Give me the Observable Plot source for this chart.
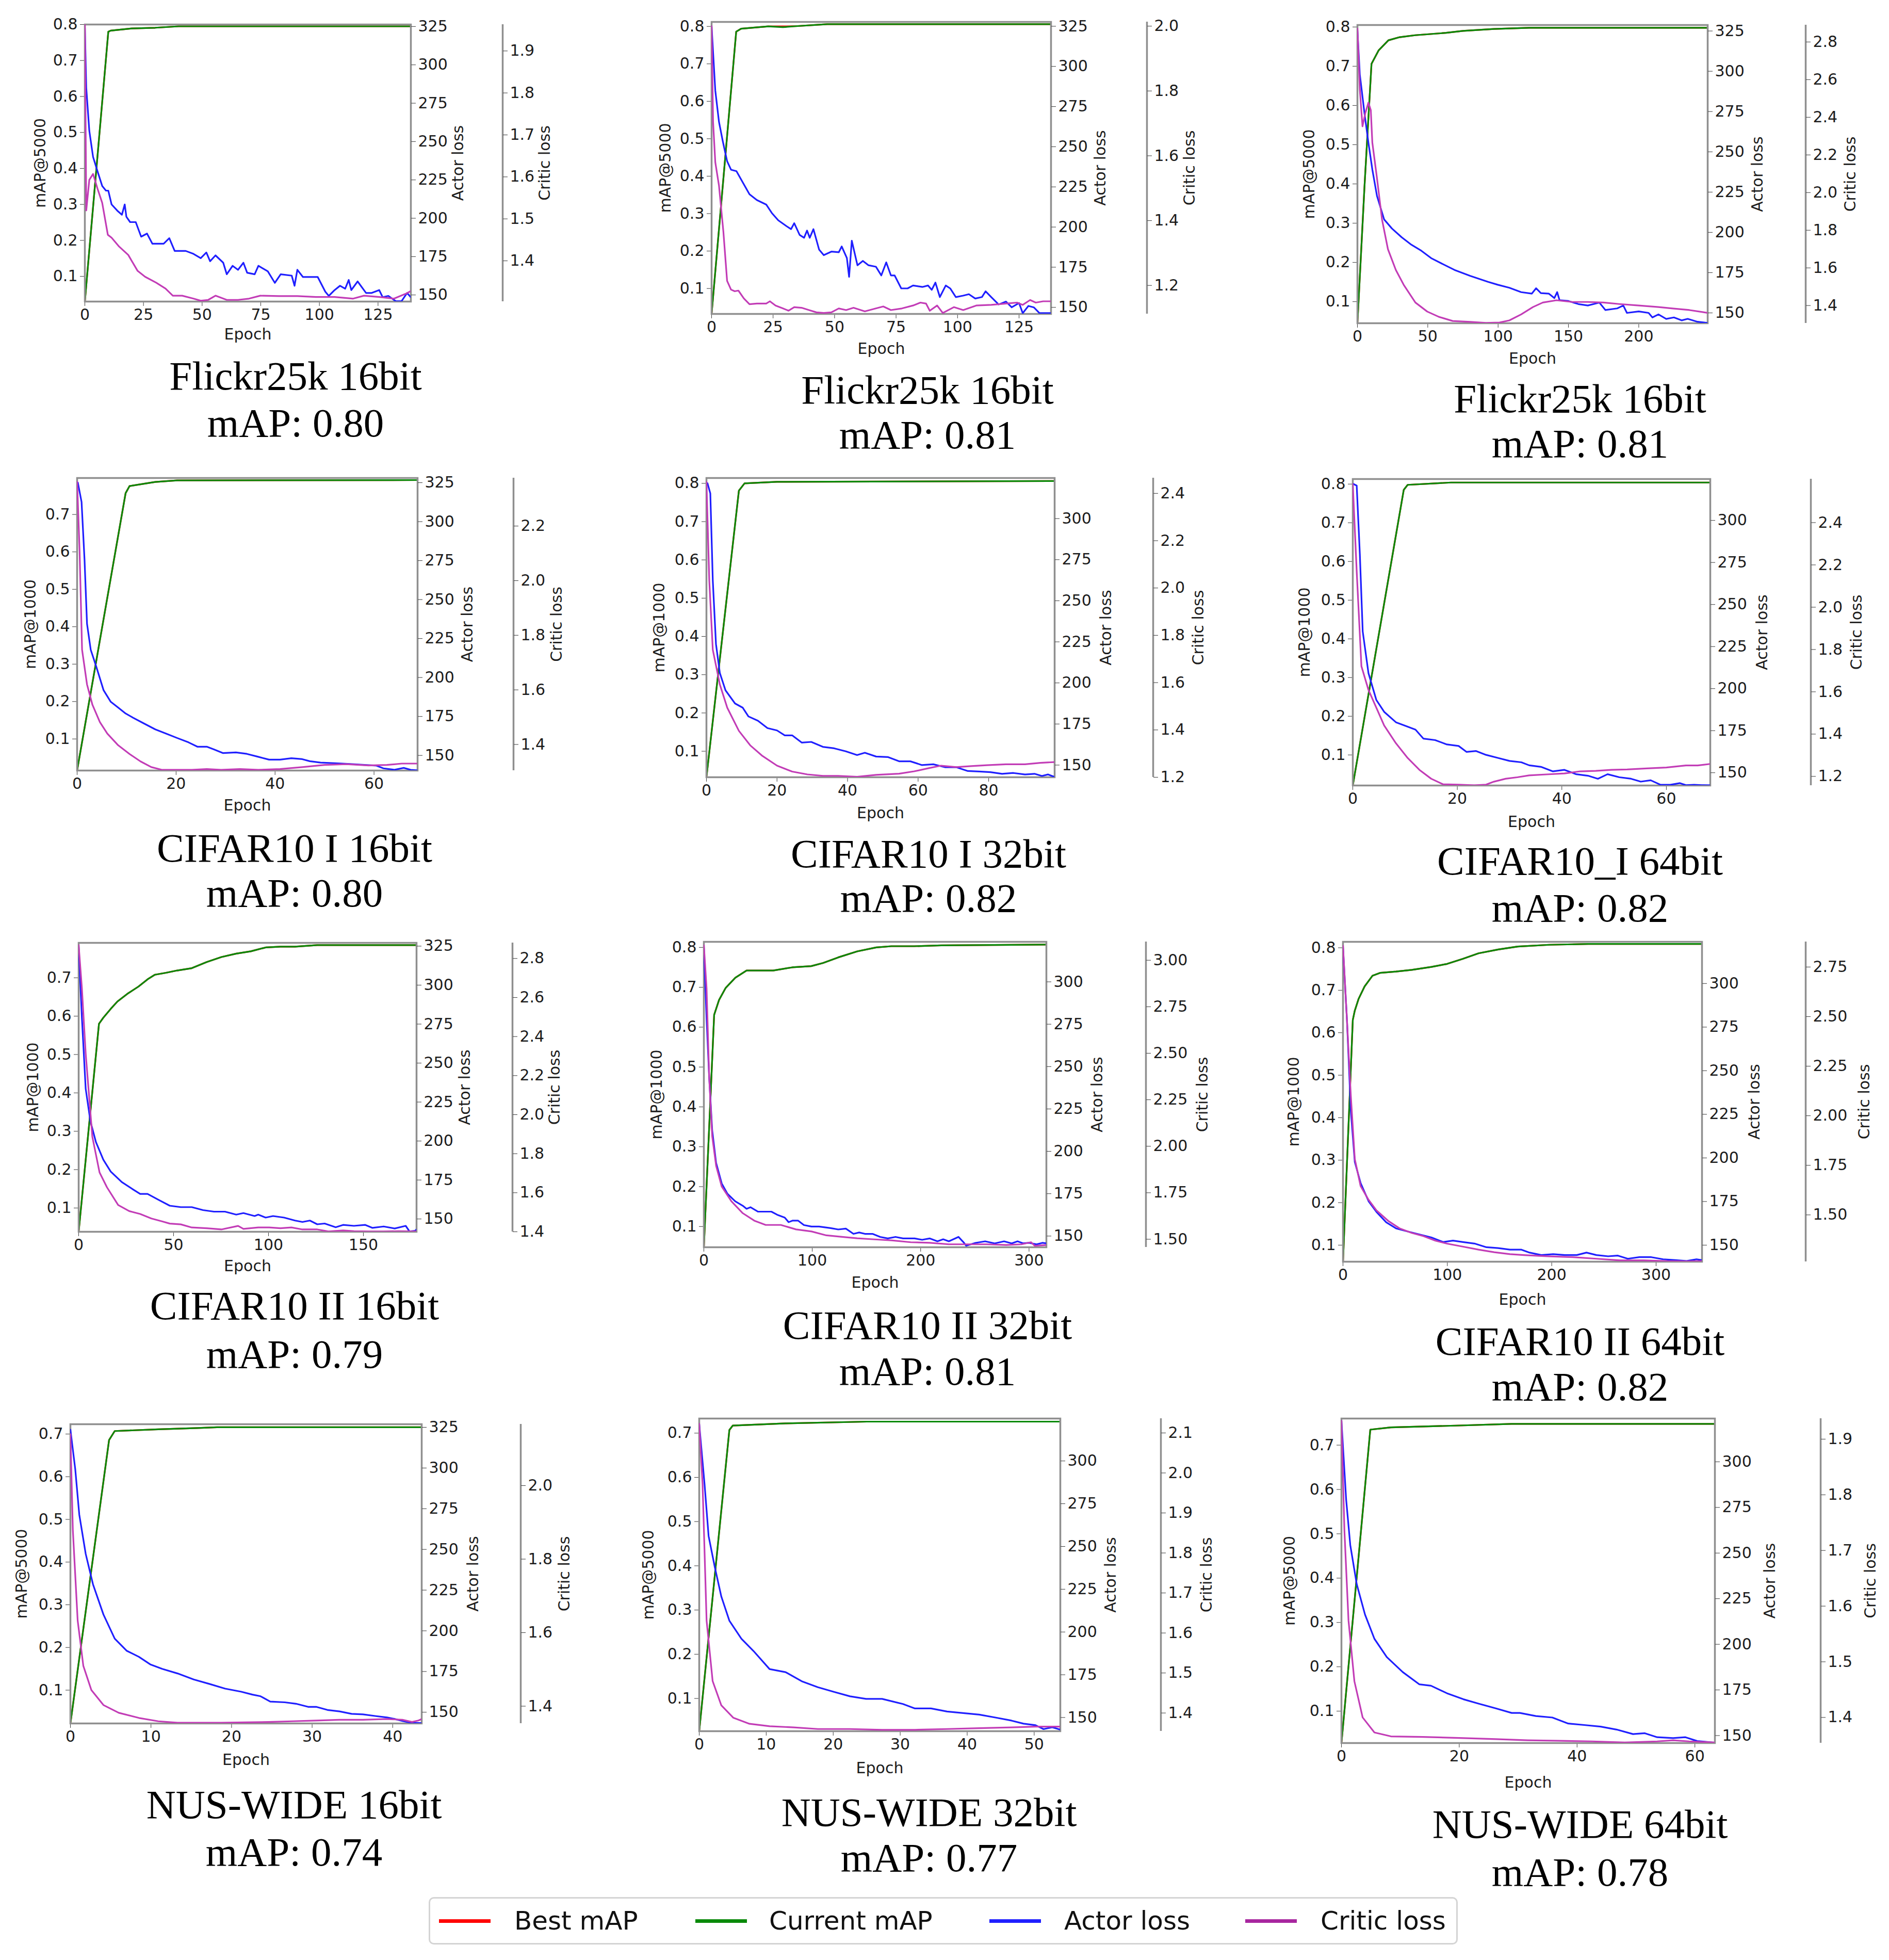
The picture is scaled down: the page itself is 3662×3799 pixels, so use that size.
<!DOCTYPE html>
<html>
<head>
<meta charset="utf-8">
<script src="https://cdn.jsdelivr.net/npm/d3@7"></script>
<script src="https://cdn.jsdelivr.net/npm/@observablehq/plot@0.6"></script>
<style>
html, body { margin: 0; padding: 0; background: #fff; }
#page { position: relative; width: 3662px; height: 3799px; overflow: hidden; background: #fff; }
.title { position: absolute; font-family: "Liberation Serif", "Times New Roman", serif; font-size: 79px; line-height: 1; white-space: nowrap; transform: translate(-50%, -50%); color: #000; }
.legend { position: absolute; box-sizing: border-box; border: 3px solid #d4d4d4; border-radius: 10px; background: #fff; }
.legend .sw { position: absolute; height: 7px; }
.legend .lt { position: absolute; font-family: "DejaVu Sans", sans-serif; font-size: 50px; line-height: 1; color: #111; transform: translateY(-50%); white-space: nowrap; }
</style>
</head>
<body>
<div id="page"></div>
<script>
// ---------------- DATA ----------------
const titles = ["Flickr25k 16bit","Flickr25k 16bit","Flickr25k 16bit","CIFAR10 I 16bit","CIFAR10 I 32bit","CIFAR10_I 64bit","CIFAR10 II 16bit","CIFAR10 II 32bit","CIFAR10 II 64bit","NUS-WIDE 16bit","NUS-WIDE 32bit","NUS-WIDE 64bit"];
const finalMAP = ["0.80","0.81","0.81","0.80","0.82","0.82","0.79","0.81","0.82","0.74","0.77","0.78"];
const mapLabels = ["mAP@5000","mAP@5000","mAP@5000","mAP@1000","mAP@1000","mAP@1000","mAP@1000","mAP@1000","mAP@1000","mAP@5000","mAP@5000","mAP@5000"];
const legendLabels = ["Best mAP","Current mAP","Actor loss","Critic loss"];

const xTicks = [[0,25,50,75,100,125],[0,25,50,75,100,125],[0,50,100,150,200],[0,20,40,60],[0,20,40,60,80],[0,20,40,60],[0,50,100,150],[0,100,200,300],[0,100,200,300],[0,10,20,30,40],[0,10,20,30,40,50],[0,20,40,60]];
const map8Ticks = [0.1,0.2,0.3,0.4,0.5,0.6,0.7,0.8];
const map7Ticks = [0.1,0.2,0.3,0.4,0.5,0.6,0.7];
const mapTicks = [map8Ticks,map8Ticks,map8Ticks,map7Ticks,map8Ticks,map8Ticks,map7Ticks,map8Ticks,map8Ticks,map7Ticks,map7Ticks,map7Ticks];
const actor325Ticks = [150,175,200,225,250,275,300,325];
const actor300Ticks = [150,175,200,225,250,275,300];
const actorTicks = [actor325Ticks,actor325Ticks,actor325Ticks,actor325Ticks,actor300Ticks,actor300Ticks,actor325Ticks,actor300Ticks,actor300Ticks,actor325Ticks,actor300Ticks,actor300Ticks];
const criticTicks = [[1.4,1.5,1.6,1.7,1.8,1.9],[1.2,1.4,1.6,1.8,2.0],[1.4,1.6,1.8,2.0,2.2,2.4,2.6,2.8],[1.4,1.6,1.8,2.0,2.2],[1.2,1.4,1.6,1.8,2.0,2.2,2.4],[1.2,1.4,1.6,1.8,2.0,2.2,2.4],[1.4,1.6,1.8,2.0,2.2,2.4,2.6,2.8],[1.5,1.75,2.0,2.25,2.5,2.75,3.0],[1.5,1.75,2.0,2.25,2.5,2.75],[1.4,1.6,1.8,2.0],[1.4,1.5,1.6,1.7,1.8,1.9,2.0,2.1],[1.4,1.5,1.6,1.7,1.8,1.9]];
const criticFormats = [".1f",".1f",".1f",".1f",".1f",".1f",".1f",".2f",".2f",".1f",".1f",".1f"];

const xDomains = [[0,139],[0,138],[0,249],[0,68.8],[0,98.7],[0,68.4],[0,178],[0,316],[0,344],[0,43.6],[0,53.9],[0,63.4]];
const mapDomains = [[0.03,0.8],[0.032,0.812],[0.045,0.805],[0.0156,0.7975],[0.032,0.814],[0.021,0.813],[0.038,0.791],[0.048,0.814],[0.061,0.814],[0.022,0.723],[0.026,0.733],[0.028,0.76]];
const actorDomains = [[145.7,326.3],[145.9,327.7],[143.6,328.7],[140.3,328],[142.6,324.7],[142.4,324.6],[141.8,327.1],[143.4,323.6],[140.5,323.9],[143.1,326.9],[142,324.8],[145.9,323.7]];
const criticDomains = [[1.303,1.963],[1.112,2.013],[1.306,2.89],[1.3045,2.376],[1.2,2.465],[1.157,2.606],[1.4,2.88],[1.457,3.099],[1.264,2.877],[1.353,2.167],[1.3545,2.136],[1.354,1.937]];

// Current mAP per panel: [epoch, value]
const p1Current = [[0,0.03],[10,0.78],[11,0.783],[20,0.789],[30,0.791],[40,0.795],[139,0.795]];
const p2Current = [[0,0.032],[10,0.786],[12,0.794],[23,0.8],[29,0.798],[35,0.801],[47,0.806],[138,0.806]];
const p3Current = [[0,0.045],[5,0.392],[10,0.706],[15,0.74],[22,0.766],[30,0.774],[41,0.779],[63,0.785],[75,0.79],[97,0.795],[122,0.798],[249,0.798]];
const p4Current = [[0,0.016],[9.8,0.757],[10.6,0.776],[15.8,0.787],[20.2,0.791],[68.8,0.792]];
const p5Current = [[0,0.032],[9.2,0.781],[10.8,0.8],[20,0.804],[98.7,0.806]];
const p6Current = [[0,0.021],[9.75,0.785],[10.5,0.798],[18.8,0.804],[68.4,0.804]];
const p7Current = [[0,0.038],[10.7,0.58],[13,0.596],[16.9,0.619],[20.4,0.638],[25.6,0.658],[31.5,0.677],[36.3,0.696],[40.2,0.708],[46,0.713],[51.9,0.719],[59.6,0.725],[67.4,0.741],[75.2,0.754],[83,0.763],[90.7,0.769],[98.5,0.779],[106.3,0.781],[114,0.781],[125.7,0.785],[178,0.785]];
const p8Current = [[0,0.048],[9.5,0.631],[14,0.668],[20,0.698],[29,0.724],[39.4,0.742],[46.5,0.742],[64,0.742],[81.7,0.75],[99,0.753],[110,0.761],[124,0.775],[141.5,0.79],[159,0.8],[173,0.803],[194,0.803],[219,0.805],[316,0.807]];
const p9Current = [[0,0.061],[9.4,0.63],[11.3,0.652],[15,0.68],[20.7,0.709],[28.2,0.734],[35.8,0.741],[50.8,0.744],[65.9,0.748],[84.7,0.755],[99.7,0.762],[114.8,0.774],[129.9,0.787],[148.7,0.796],[167.5,0.803],[197.6,0.807],[235,0.809],[344,0.809]];
const p10Current = [[0,0.022],[4.8,0.686],[5.5,0.707],[10.9,0.711],[15.8,0.714],[18.2,0.716],[43.6,0.716]];
const p11Current = [[0,0.026],[4.5,0.707],[5,0.717],[12.9,0.722],[25,0.726],[53.9,0.726]];
const p12Current = [[0,0.028],[4.9,0.735],[8.4,0.74],[19.3,0.744],[28.9,0.748],[63.4,0.748]];

// Actor loss per panel
const p1Actor = [[0,324],[0.6,285],[1.9,257],[3.5,240],[5.4,230.6],[7.4,221],[9,218],[10,218],[11.4,209],[13.8,205],[15.8,202.3],[17,209],[17.7,201],[19.3,197.5],[21.7,197.5],[24,188],[26.5,190],[28.8,183.4],[33.6,183.4],[36,187],[38.3,178.7],[43,178.7],[46.3,176.8],[49.4,174],[51.8,177.7],[53.4,172],[55.7,175.8],[59,171],[60.5,163.5],[63,169],[65.3,166.4],[67.6,171],[69.2,164.5],[72.4,163.5],[74,169],[78,165.4],[81,157.9],[83.5,163.5],[88.2,162.6],[89.4,156],[90.6,166.4],[93,161.7],[96,161.7],[99.3,161.7],[102.5,152.2],[104,149.4],[106.5,153.2],[108.8,156],[111,154.1],[112.5,159.8],[113.6,153.2],[116.3,158.8],[119.9,151.3],[122.3,151.3],[125.5,153.2],[127,148.5],[129.4,149.4],[132.6,145.9],[135,145.9],[137.4,151.3],[139,148.5]];
const p2Actor = [[0,325],[1.5,285],[3,265.5],[4.5,253.8],[6.3,241],[7.9,235.7],[10.1,234.8],[12.4,228.5],[15.4,220.4],[18.4,216.8],[22.2,214],[24.5,208.7],[27.1,204.2],[30.5,200.5],[32.3,198.7],[33.6,202.4],[35.8,195.1],[37.6,193.3],[38.8,197.8],[39.9,193.3],[41.4,198.7],[43.7,186],[45.6,182.5],[48.7,184.7],[51.7,184.3],[52.9,187.9],[55,180.7],[55.9,169],[57,191.5],[59.3,176.2],[61.5,178.9],[63.8,176.2],[66.8,175.3],[69,169.9],[71,178],[72.9,169.9],[74.4,169.9],[77.1,161.8],[79.7,161.8],[81.9,163.6],[85.7,162.7],[88,163.6],[89.5,160.9],[91,165.4],[92.8,156.4],[95.2,163.6],[97,161.8],[99.3,156.4],[102.3,157.3],[104.6,158.2],[107.2,155.5],[109.9,156.4],[111.4,160],[113.7,156.4],[116.7,151.8],[119.7,153.6],[122,150],[125,152.7],[126.5,146.4],[128.8,150.9],[131,150],[133.3,146.4],[138,146.4]];
const p3Actor = [[0,325.5],[1.7,298],[5,274],[7.8,255.7],[10.6,239],[13.9,222.6],[19,208],[24.5,202.4],[31.5,196.9],[38.4,192.3],[45.4,188.6],[52.4,184],[60.7,180.3],[69,176.7],[80.2,173],[92.8,169.3],[99.7,167.5],[108,165.6],[116.4,162.9],[124,162],[127,165.3],[130.4,162.3],[136,162],[140,159.2],[142,162.9],[143.7,157.9],[150,157.4],[157,155.5],[163.8,154.6],[172,156.4],[176.3,151.8],[184.7,152.8],[189,154.6],[191.6,150],[200,150.9],[207,150],[209.7,147.2],[214,149.1],[219.5,146.3],[225,147.2],[230.6,145.4],[234.8,146.3],[241.8,144.5],[249,143.8]];
const p4Actor = [[0.15,325],[0.9,312.6],[1.5,275.4],[2,234.5],[2.75,217.8],[3.9,206.7],[5.35,191.8],[6.8,184.4],[8.3,180.7],[9.8,176.9],[11.3,174.2],[13.5,170.5],[15.8,166.7],[18,164],[20.2,161.2],[22.5,158.4],[24.3,155.6],[26.2,155.6],[27.7,153.8],[29.5,151.5],[32.1,151.9],[34.3,151],[36.6,149.1],[38.8,147.3],[41,147.3],[43.3,148.2],[45.5,147.6],[47,146.3],[49.2,145.4],[52.2,145],[55.2,144.5],[58.1,143.9],[60.4,143.5],[61.9,141.7],[64.1,140.8],[66,142],[67.4,140.8],[68.8,140.4]];
const p5Actor = [[0.3,321.5],[1.1,315.3],[1.8,262.4],[2.7,223.7],[3.8,206],[5.4,195.5],[8.1,187.5],[10.3,184.9],[11.9,179.6],[14.6,177],[17.3,172.5],[20,171.1],[22.2,168.1],[24.3,168.1],[27,163.7],[29.7,164.1],[33,161.1],[36.2,160.2],[39.5,158.4],[42.7,156.1],[44.9,157.5],[48.1,155.2],[51.4,154.9],[54.6,152.3],[57.8,152.3],[61.1,150],[64.3,150.5],[67.6,148.7],[70.8,148.7],[74.1,146.4],[77.3,146.1],[80.5,145.7],[83.8,144.7],[87,145.2],[90.3,144.3],[93,144.7],[95.1,143.4],[96.8,144.3],[98.7,142.8]];
const p6Actor = [[0.15,321.6],[0.75,320.7],[1.35,280],[1.9,234],[3,209.2],[4.5,193.3],[6,186.2],[8.25,180],[10.5,177.4],[12,175.6],[13.5,170.3],[15.75,169.4],[18,166.8],[20.25,165.9],[21.75,162.4],[23.6,162.9],[25.5,160.6],[27.75,158.8],[30,157],[32.25,156.2],[33.75,154.4],[36,153.5],[38.25,150.8],[40.5,151.7],[42.75,149.1],[45,148.2],[46.9,146.4],[48.75,149.1],[51,147.3],[53.25,146.4],[55.1,144.7],[57,145.5],[58.9,142.8],[60.75,142.8],[62.6,143.8],[63.75,142.6],[65.3,142.8],[66.8,142.6],[68.4,142.5]];
const p7Actor = [[0,324.6],[1.7,279],[3.7,233.5],[6.2,212.6],[9.1,199.3],[13,188],[16.9,180.4],[22.7,173.7],[28.6,169],[32.4,166.1],[36.3,166.1],[42.1,162.3],[48,158.5],[53.8,157.6],[59.6,157.6],[65.5,155.7],[71.3,154.7],[77.1,154.7],[83,152.8],[86.8,153.8],[92.7,151.9],[94.6,152.8],[98.5,150.9],[102.4,151.9],[108.2,150.9],[114,149],[117.9,148.1],[121.8,149],[125.7,146.6],[129.6,147.1],[135.4,144.7],[139.3,146.2],[145,145.6],[151,146.2],[154.8,144.3],[160.7,145.2],[166.5,143.9],[172.3,145.6],[174.3,142],[177.2,142.4],[178,143.3]];
const p8Actor = [[0,320.3],[2.5,278.7],[4.9,243.8],[7.7,212.4],[11.3,193.2],[16.5,181],[21.8,174.9],[28.9,170.5],[35.9,167.9],[39.4,166.1],[43,167],[50,164.4],[57,164.4],[62.3,164.4],[67.6,162.6],[74.6,160.9],[78.2,158.2],[81.7,159.1],[87,159.1],[92.3,156.5],[99.3,155.6],[106.3,155.6],[116.9,154.7],[124,153.9],[131,154.4],[138,151.3],[143.3,152.1],[148.6,151.3],[155.6,151.3],[162.7,149.5],[169.7,148.6],[176.8,149.5],[183.8,148.6],[194.4,148.6],[201.4,147.8],[208.5,148.6],[215.5,146.9],[220.8,148.1],[226,146.9],[234.9,149.5],[240,146],[242,144.3],[250.7,146],[259.5,146.9],[268.3,145.7],[277,146.9],[284,145.7],[289.4,146.9],[294.7,145.7],[300,146],[307,145.1],[312.3,146],[315.8,145.7]];
const p9Actor = [[0,320.8],[3.8,279.2],[7.5,227.2],[11.3,197.7],[16.9,185.6],[24.5,175.2],[32,169.1],[41.4,163.1],[50.8,159.6],[62.1,157.8],[73.4,156.1],[84.7,154.4],[96,151.8],[105.4,152.6],[114.8,151.8],[126,150.9],[137.4,148.8],[148.7,148.3],[160,147.4],[171,147.4],[178.8,145.7],[190,144.3],[201.4,144.8],[212.6,144.3],[224,144.3],[233.3,145.7],[242.8,144.3],[254,143.6],[263.4,144],[272.9,142.2],[284,143.1],[295.4,143.1],[306.7,141.9],[318,141.4],[329.3,140.9],[338.7,141.9],[344,141.4]];
const p10Actor = [[0,323.5],[0.6,299.3],[1.1,271.4],[1.9,247.2],[2.8,228.6],[4.1,210],[5.5,195.2],[7,187.7],[8.5,184],[9.9,179.4],[11.4,176.6],[13.3,173.8],[15.3,170.1],[17.3,167.3],[19.2,164.5],[21.2,162.6],[22.6,160.8],[23.6,159.8],[24.8,156.5],[26.6,156.1],[28,155.2],[29.5,153.3],[30.5,153.3],[31.9,151.4],[33.4,150.5],[34.9,149],[36.3,148.7],[37.8,147.7],[39.3,146.8],[40.2,145.9],[41.2,144.6],[42.2,143.6],[43.6,143.3]];
const p11Actor = [[0,321.6],[0.8,286.2],[1.4,256.1],[2.3,238.4],[3.3,220.7],[4.5,206.6],[6.3,196],[8.1,188.9],[10.5,178.3],[12.9,176.5],[15.3,171.2],[17.7,167.7],[20.1,165],[22.5,162.4],[24.9,160.9],[27.3,160.9],[30.4,157.9],[32.2,155.3],[34.6,155.3],[37,153.5],[39.4,152.6],[41.8,151.7],[44.2,150],[46.6,148.2],[48.4,146.4],[50.2,145.5],[51.4,143.2],[52.7,144.3],[53.9,142.9]];
const p12Actor = [[0,322.4],[0.8,279.3],[1.5,254.4],[2.6,232.9],[4,216.3],[5.6,203],[7.7,193],[10.4,184.8],[13.2,178.1],[15.2,177.3],[17.9,173.2],[20.7,169.9],[23.4,167.4],[26.2,164.9],[28.9,162.4],[30.3,162.4],[33,160.7],[35.8,159.9],[38.5,156.6],[41.2,155.8],[44,154.9],[46.7,153.3],[49.5,150.8],[51.5,151.3],[53.6,149.1],[56.3,148.6],[58.4,149.1],[60.4,147],[63.4,146.1]];

// Critic loss per panel
const p1Critic = [[0,1.962],[0.6,1.52],[1.9,1.593],[3.5,1.607],[5.4,1.572],[7.4,1.538],[9.8,1.462],[11.4,1.455],[14.6,1.434],[18.5,1.414],[22.5,1.376],[25.7,1.362],[30.4,1.348],[34.4,1.334],[37.5,1.317],[41.5,1.317],[46.3,1.31],[49.4,1.305],[52.6,1.307],[55.7,1.317],[60.5,1.307],[65.3,1.307],[70,1.31],[74.8,1.317],[82.7,1.316],[90.6,1.316],[98.5,1.314],[106.5,1.314],[114.4,1.31],[119,1.317],[125.5,1.314],[131.8,1.31],[136.6,1.321],[139,1.328]];
const p2Critic = [[0,2.0],[0.6,1.705],[1.5,1.58],[3,1.508],[4.8,1.365],[6.3,1.214],[7.9,1.187],[9.4,1.182],[10.9,1.184],[13.1,1.16],[15.4,1.142],[18.4,1.144],[22.2,1.144],[23.7,1.151],[26,1.138],[29,1.129],[31.3,1.122],[33.6,1.133],[36.6,1.131],[39.6,1.124],[42.6,1.117],[45.6,1.115],[48.7,1.117],[51.7,1.129],[54.7,1.124],[57.7,1.131],[62.3,1.12],[66.8,1.129],[69.8,1.135],[72.9,1.124],[77.4,1.129],[81.9,1.138],[84.9,1.147],[87.2,1.144],[88.7,1.122],[91.7,1.138],[94,1.115],[98.5,1.133],[102.3,1.124],[107.6,1.138],[113.7,1.14],[119.7,1.144],[124.2,1.147],[126.5,1.14],[129.5,1.155],[131.8,1.147],[134.8,1.151],[138,1.151]];
const p3Critic = [[0,2.871],[1.7,2.548],[3.6,2.352],[5.6,2.422],[7.8,2.478],[9.5,2.438],[10.6,2.265],[13.9,2.076],[17.5,1.856],[21.7,1.699],[27.3,1.589],[32.9,1.51],[41.2,1.416],[49.6,1.368],[57.9,1.34],[67.7,1.318],[80.2,1.313],[91.4,1.308],[101,1.31],[108,1.321],[116.4,1.353],[124.8,1.392],[131.8,1.416],[141.5,1.428],[152.6,1.419],[163.8,1.419],[175,1.416],[186,1.408],[200,1.4],[214,1.392],[225,1.384],[236,1.376],[249,1.361]];
const p4Critic = [[0,2.362],[0.5,2.108],[1,1.747],[2,1.62],[3.1,1.545],[4.6,1.482],[6.1,1.44],[8.3,1.397],[10.6,1.365],[12.8,1.338],[15,1.317],[17.2,1.307],[20.2,1.307],[23.2,1.307],[26.2,1.31],[29.1,1.307],[32.9,1.31],[36.6,1.307],[41,1.31],[45.5,1.317],[50,1.325],[54.4,1.328],[58.9,1.323],[62.6,1.325],[65.6,1.33],[68.8,1.33]];
const p5Critic = [[0,2.449],[0.8,2.033],[1.8,1.739],[3.8,1.592],[5.9,1.494],[9.2,1.396],[12.4,1.335],[15.7,1.292],[20,1.249],[24.3,1.224],[28.6,1.212],[33,1.206],[37.3,1.206],[42.7,1.202],[48.1,1.21],[54.6,1.215],[58.9,1.225],[63.2,1.239],[66.5,1.249],[70.8,1.243],[75.1,1.247],[79.5,1.251],[84.9,1.255],[90.3,1.255],[94.6,1.261],[98.7,1.264]];
const p6Critic = [[0,2.582],[0.75,2.169],[1.65,1.721],[3,1.609],[4.5,1.525],[6,1.441],[8.25,1.357],[10.5,1.287],[12.75,1.231],[15,1.189],[17.25,1.163],[20.25,1.161],[23.25,1.158],[25.5,1.161],[27,1.175],[29.25,1.189],[31.5,1.196],[33.75,1.205],[37.5,1.21],[40.5,1.214],[43.5,1.224],[46.5,1.226],[49.5,1.231],[52.5,1.233],[56.25,1.238],[60,1.242],[63.75,1.252],[66,1.252],[68.4,1.259]];
const p7Critic = [[0,2.868],[1.7,2.648],[3.7,2.313],[7.2,1.887],[11,1.704],[14.9,1.628],[20.8,1.537],[26.6,1.506],[32.4,1.491],[38.3,1.468],[44.1,1.453],[48,1.442],[53.8,1.438],[59.6,1.422],[67.4,1.418],[75.2,1.412],[84,1.43],[86.8,1.415],[94.6,1.422],[100.4,1.422],[106.3,1.418],[112.1,1.422],[117.9,1.412],[125.7,1.412],[131.6,1.402],[139.3,1.407],[145,1.403],[152.9,1.402],[160.7,1.402],[168.4,1.403],[178,1.402]];
const p8Critic = [[0,3.08],[2.5,2.849],[4.9,2.372],[7.7,2.054],[11.3,1.895],[16.5,1.783],[25.4,1.704],[35.9,1.64],[46.5,1.6],[57,1.577],[71,1.577],[85,1.553],[99.3,1.542],[113,1.521],[127.5,1.513],[141.5,1.505],[155.6,1.5],[173,1.494],[190.8,1.484],[208.5,1.481],[226,1.473],[243.7,1.473],[261,1.473],[278.9,1.469],[293,1.473],[301.8,1.484],[305.3,1.465],[315.8,1.469]];
const p9Critic = [[0,2.857],[3.8,2.483],[7.5,2.102],[11.3,1.782],[16.9,1.645],[24.5,1.576],[32,1.523],[43.3,1.47],[54.6,1.431],[65.9,1.409],[77.2,1.393],[88.5,1.37],[99.7,1.355],[114.8,1.34],[129.9,1.325],[144.9,1.312],[160,1.302],[175,1.297],[197.6,1.291],[220,1.287],[242.8,1.279],[265.3,1.271],[287.9,1.271],[310.5,1.267],[329.3,1.266],[344,1.267]];
const p10Critic = [[0,2.14],[0.3,1.88],[0.9,1.633],[1.6,1.51],[2.6,1.444],[4.1,1.403],[6,1.382],[8.5,1.368],[10.9,1.359],[13.3,1.355],[15.8,1.355],[18.7,1.355],[21.7,1.356],[24.6,1.357],[27.5,1.359],[30.5,1.361],[33.4,1.363],[36.3,1.363],[39.3,1.365],[41.2,1.363],[42.4,1.357],[43.2,1.361],[43.6,1.365]];
const p11Critic = [[0,2.123],[0.5,1.971],[1.1,1.631],[2,1.48],[3.3,1.419],[5.1,1.388],[7.5,1.373],[10.5,1.367],[14.1,1.364],[17.7,1.36],[22.5,1.36],[27.3,1.358],[32.2,1.358],[37,1.36],[41.8,1.362],[46.6,1.364],[50.2,1.366],[53.9,1.366]];
const p12Critic = [[0,1.933],[0.5,1.737],[1.2,1.574],[2.2,1.465],[3.6,1.4],[5.6,1.373],[8.4,1.366],[13.8,1.365],[20.7,1.363],[26.2,1.361],[31.6,1.359],[37.1,1.358],[42.6,1.357],[48.1,1.355],[53.6,1.357],[56.3,1.359],[59,1.357],[63.4,1.355]];

const currentSeries = [p1Current,p2Current,p3Current,p4Current,p5Current,p6Current,p7Current,p8Current,p9Current,p10Current,p11Current,p12Current];
const actorSeries = [p1Actor,p2Actor,p3Actor,p4Actor,p5Actor,p6Actor,p7Actor,p8Actor,p9Actor,p10Actor,p11Actor,p12Actor];
const criticSeries = [p1Critic,p2Critic,p3Critic,p4Critic,p5Critic,p6Critic,p7Critic,p8Critic,p9Critic,p10Critic,p11Critic,p12Critic];

// ---------------- LAYOUT (pixels) ----------------
const layout = [
  {L:164, T:47,  R:796,  B:584,  spine:974,  mapX:78,   actorX:888,  criticX:1056, epochY:648,  tx:573,  ty1:728,  ty2:819},
  {L:1379,T:42,  R:2037, B:608,  spine:2223, mapX:1290, actorX:2133, criticX:2306, epochY:676,  tx:1798, ty1:755,  ty2:842},
  {L:2631,T:48,  R:3310, B:626,  spine:3500, mapX:2538, actorX:3407, criticX:3587, epochY:695,  tx:3063, ty1:772,  ty2:859},
  {L:149, T:926, R:809,  B:1493, spine:995,  mapX:59,   actorX:906,  criticX:1079, epochY:1561, tx:571,  ty1:1643, ty2:1730},
  {L:1369,T:926, R:2044, B:1506, spine:2235, mapX:1278, actorX:2144, criticX:2323, epochY:1576, tx:1800, ty1:1654, ty2:1740},
  {L:2622,T:928, R:3315, B:1522, spine:3510, mapX:2529, actorX:3416, criticX:3599, epochY:1593, tx:3063, ty1:1668, ty2:1759},
  {L:152, T:1827,R:807,  B:2387, spine:993,  mapX:64,   actorX:901,  criticX:1075, epochY:2454, tx:571,  ty1:2530, ty2:2624},
  {L:1364,T:1825,R:2028, B:2417, spine:2221, mapX:1273, actorX:2127, criticX:2331, epochY:2486, tx:1798, ty1:2568, ty2:2657},
  {L:2603,T:1825,R:3299, B:2445, spine:3500, mapX:2508, actorX:3401, criticX:3614, epochY:2519, tx:3063, ty1:2599, ty2:2687},
  {L:136, T:2760,R:817,  B:3340, spine:1009, mapX:42,   actorX:917,  criticX:1094, epochY:3411, tx:570,  ty1:3497, ty2:3589},
  {L:1355,T:2749,R:2055, B:3355, spine:2250, mapX:1257, actorX:2153, criticX:2339, epochY:3427, tx:1801, ty1:3512, ty2:3600},
  {L:2600,T:2749,R:3324, B:3378, spine:3529, mapX:2500, actorX:3431, criticX:3626, epochY:3455, tx:3063, ty1:3535, ty2:3628}
];
const legendBox = {left:831, top:3677, width:1995, height:92, swatchX:[848,1345,1915,2411], textX:[994,1488,2060,2557], swatchW:100};

const COLORS = {best:"#ff0000", current:"#0a8a0a", actor:"#1f1fff", critic:"#c23cb6"};
const FRAME = "#8f8f8f", TICK = "#3a3a3a", TEXT = "#1c1c1c";
const ML = 140, MR = 380, MT = 24, MB = 120;
const FS = 30;

// ---------------- RENDER ----------------
const page = document.getElementById("page");
const rows = arr => arr.map(([epoch, value]) => ({epoch, value}));
const runningMax = arr => { let m = -Infinity; return arr.map(([e, v]) => { m = Math.max(m, v); return [e, m]; }); };
const style = {background: "transparent", fontFamily: "'DejaVu Sans', sans-serif", fontSize: FS + "px", overflow: "visible", color: TEXT};

function place(svg, left, top) {
  svg.style.position = "absolute";
  svg.style.left = left + "px";
  svg.style.top = top + "px";
  svg.style.maxWidth = "none";
  page.appendChild(svg);
}

const axisStyle = {tickSize: 9, tickPadding: 5, stroke: TICK, fill: TEXT, fontSize: FS, label: null};
const lineStyle = {x: "epoch", y: "value", strokeWidth: 3.2, clip: true};

for (let i = 0; i < 12; i++) {
  const g = layout[i];
  const W = (g.R - g.L) + ML + MR;
  const H = (g.B - g.T) + MT + MB;
  const common = {width: W, height: H, marginLeft: ML, marginRight: MR, marginTop: MT, marginBottom: MB, style};
  const left = g.L - ML, top = g.T - MT;

  // mAP plot (bottom layer)
  const plotA = Plot.plot({
    ...common,
    x: {domain: xDomains[i], label: null},
    y: {domain: mapDomains[i], label: null},
    marks: [
      Plot.axisX({...axisStyle, ticks: xTicks[i], tickFormat: "d"}),
      Plot.axisY({...axisStyle, ticks: mapTicks[i], tickFormat: ".1f"}),
      Plot.line(rows(runningMax(currentSeries[i])), {...lineStyle, stroke: COLORS.best}),
      Plot.line(rows(currentSeries[i]), {...lineStyle, stroke: COLORS.current}),
      Plot.frame({stroke: FRAME, strokeWidth: 3.5}),
      Plot.text(["Epoch"], {text: d => d, frameAnchor: "bottom", dy: g.epochY - g.B, fill: TEXT, fontSize: FS, textAnchor: "middle", lineAnchor: "middle"}),
      Plot.text([mapLabels[i]], {text: d => d, frameAnchor: "left", dx: g.mapX - g.L, rotate: -90, fill: TEXT, fontSize: FS, textAnchor: "middle", lineAnchor: "middle"})
    ]
  });
  place(plotA, left, top);

  // Actor loss plot
  const plotB = Plot.plot({
    ...common,
    x: {domain: xDomains[i], axis: null},
    y: {domain: actorDomains[i], label: null},
    marks: [
      Plot.axisY({...axisStyle, anchor: "right", ticks: actorTicks[i], tickFormat: "d"}),
      Plot.line(rows(actorSeries[i]), {...lineStyle, stroke: COLORS.actor}),
      Plot.text(["Actor loss"], {text: d => d, frameAnchor: "right", dx: g.actorX - g.R, rotate: -90, fill: TEXT, fontSize: FS, textAnchor: "middle", lineAnchor: "middle"})
    ]
  });
  place(plotB, left, top);

  // Critic loss plot (offset right spine)
  const off = g.spine - g.R;
  const plotC = Plot.plot({
    ...common,
    x: {domain: xDomains[i], axis: null},
    y: {domain: criticDomains[i], label: null},
    marks: [
      Plot.ruleX([xDomains[i][1]], {dx: off, stroke: FRAME, strokeWidth: 3.5}),
      Plot.axisY({...axisStyle, anchor: "right", dx: off, ticks: criticTicks[i], tickFormat: criticFormats[i]}),
      Plot.line(rows(criticSeries[i]), {...lineStyle, stroke: COLORS.critic}),
      Plot.text(["Critic loss"], {text: d => d, frameAnchor: "right", dx: g.criticX - g.R, rotate: -90, fill: TEXT, fontSize: FS, textAnchor: "middle", lineAnchor: "middle"})
    ]
  });
  place(plotC, left, top);

  // Titles
  const t1 = document.createElement("div");
  t1.className = "title"; t1.textContent = titles[i];
  t1.style.left = g.tx + "px"; t1.style.top = g.ty1 + "px";
  page.appendChild(t1);
  const t2 = document.createElement("div");
  t2.className = "title"; t2.textContent = "mAP: " + finalMAP[i];
  t2.style.left = g.tx + "px"; t2.style.top = g.ty2 + "px";
  page.appendChild(t2);
}

// Legend
const legend = document.createElement("div");
legend.className = "legend";
Object.assign(legend.style, {left: legendBox.left + "px", top: legendBox.top + "px", width: legendBox.width + "px", height: legendBox.height + "px"});
const legendColors = [COLORS.best, COLORS.current, COLORS.actor, "#a8279f"];
legendLabels.forEach((lab, k) => {
  const sw = document.createElement("div");
  sw.className = "sw";
  Object.assign(sw.style, {left: (legendBox.swatchX[k] - legendBox.left) + "px", top: (legendBox.height / 2 - 6) + "px", width: legendBox.swatchW + "px", background: legendColors[k]});
  legend.appendChild(sw);
  const tx = document.createElement("div");
  tx.className = "lt"; tx.textContent = lab;
  Object.assign(tx.style, {left: (legendBox.textX[k] - legendBox.left) + "px", top: (legendBox.height / 2 - 3) + "px"});
  legend.appendChild(tx);
});
page.appendChild(legend);
</script>
</body>
</html>
